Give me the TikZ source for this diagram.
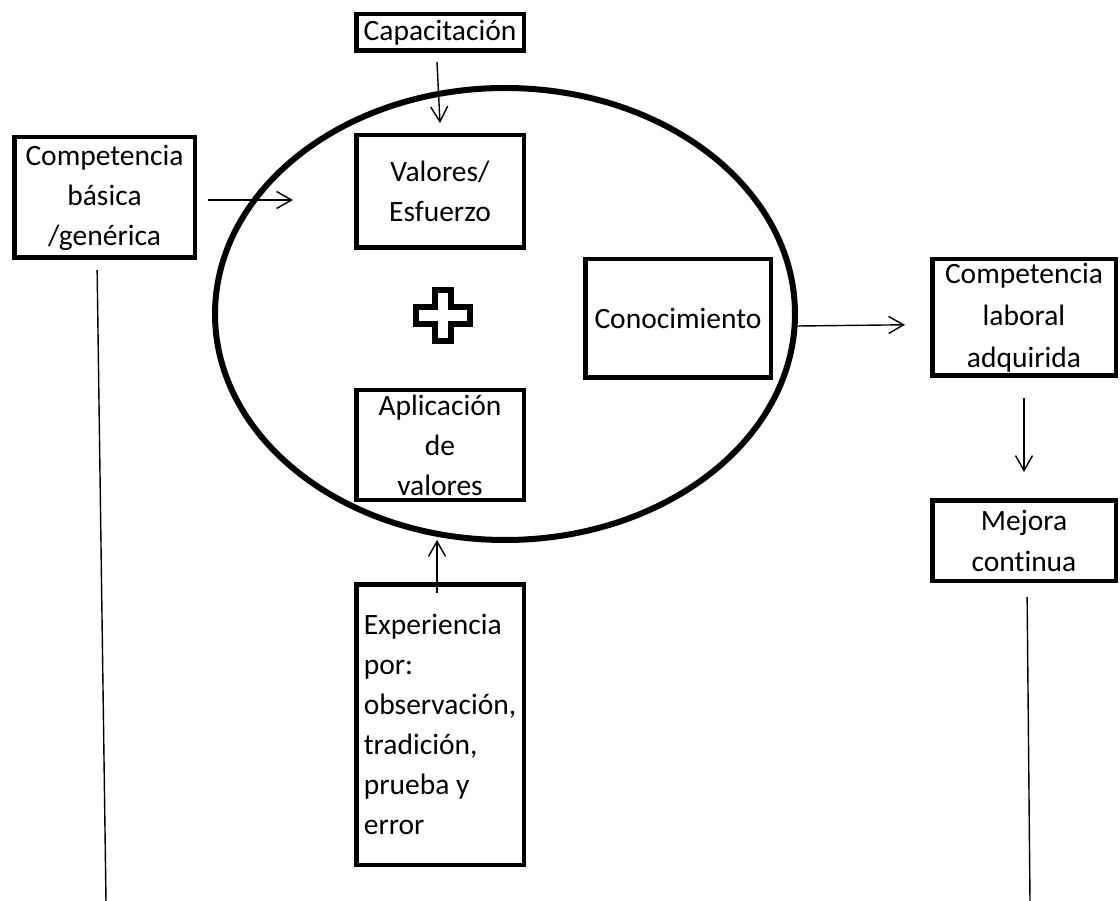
\documentclass[tikz,border=0pt]{standalone}
\usepackage{fontspec}
\setmainfont[Ligatures=NoCommon]{Carlito}
\usetikzlibrary{arrows.meta,shapes.geometric}

\tikzset{
  box/.style={draw, line width=4.5pt, inner sep=0pt, align=center, font=\fontsize{29.5}{40}\selectfont},
  arr/.style={line width=1.4pt, -{Straight Barb[length=15pt,width=17pt,line width=1.4pt]}},
  link/.style={line width=1.4pt},
}

\begin{document}
\begin{tikzpicture}[x=1pt,y=-1pt]
    \useasboundingbox (0,0) rectangle (1120,901);
    % central oval
    \node[draw, ellipse, line width=6pt, inner sep=0pt, minimum width=580pt, minimum height=452pt] (oval) at (505,314) {};
    % boxes
    \node[box, minimum width=167.5pt, minimum height=36.5pt] (cap) at (440,32.5) {Capacitación};
    \node[box, minimum width=167.5pt, minimum height=112.5pt] (valores) at (440,191.5) {Valores/\\Esfuerzo};
    \node[box, minimum width=167.5pt, minimum height=109.5pt] (aplic) at (440,445) {Aplicación\\de\\valores};
    \node[box, minimum width=185.5pt, minimum height=118.5pt] (conoc) at (678,318.5) {Conocimiento};
    \node[box, minimum width=167.5pt, minimum height=280.5pt, align=left] (exper) at (440,724.5)
        {Experiencia\\por:\\observación,\\tradición,\\prueba y\\error};
    \node[box, minimum width=180.5pt, minimum height=120.5pt] (basica) at (104.5,197.5) {Competencia\\básica\\/genérica};
    \node[box, minimum width=183.5pt, minimum height=116.5pt, font=\fontsize{29.5}{42}\selectfont] (laboral) at (1024,317.5) {Competencia\\laboral\\adquirida};
    \node[box, minimum width=183.5pt, minimum height=80.5pt, font=\fontsize{29.5}{41}\selectfont] (mejora) at (1024,540.5) {Mejora\\continua};
    % plus sign
    \draw[line width=6pt] (435,290) -- (451,290) -- (451,307) -- (470,307) -- (470,324) -- (451,324)
        -- (451,341) -- (435,341) -- (435,324) -- (416,324) -- (416,307) -- (435,307) -- cycle;
    % free ends
    \coordinate (basicaend) at (293,200);
    \coordinate (leftend) at (106,901);
    \coordinate (rightend) at (1030,901);
    % connectors
    \draw[arr] ([xshift=-3pt,yshift=-9pt]cap.south) -- ([yshift=10pt]valores.north);
    \draw[arr, shorten <=11pt] (basica.east |- basicaend) -- (basicaend);
    \draw[arr, shorten >=25pt] ([yshift=-12pt]oval.east) -- ([yshift=-7pt]laboral.west);
    \draw[arr, shorten <=20pt, shorten >=26pt] (laboral.south) -- (mejora.north);
    \draw[arr, shorten <=-11pt, shorten >=38pt] ([xshift=-3pt]exper.north) -- ([xshift=-3pt]aplic.south);
    \draw[link, shorten <=14pt] ([xshift=3pt]mejora.south) -- (rightend);
    \draw[link, shorten <=10pt] ([xshift=-7.5pt]basica.south) -- (leftend);
\end{tikzpicture}
\end{document}
